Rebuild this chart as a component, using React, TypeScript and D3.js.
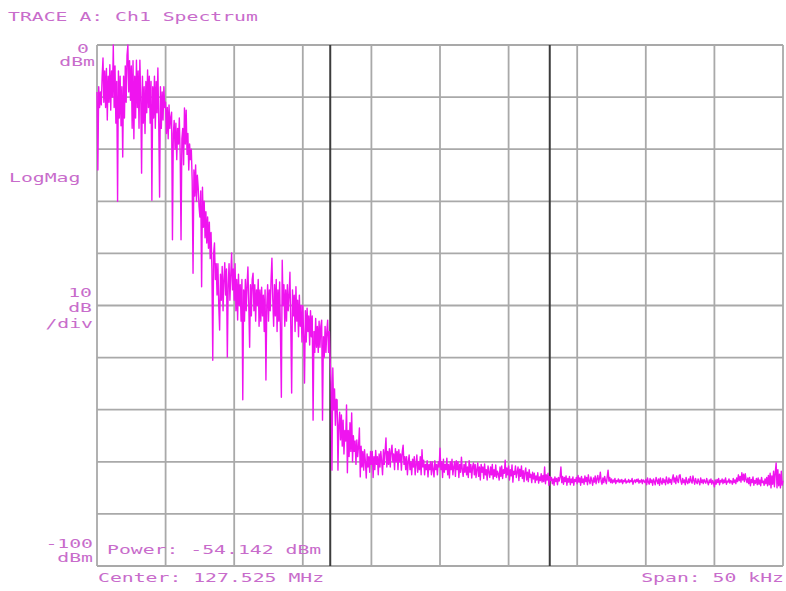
import React from "react";
import * as d3 from "d3";

// Sweep settings (kHz offset from centre)
const spanKHz = 50;
const sweepPoints = 801;
const divKHz = 5;
const refLevel = 0;
const bottomLevel = -100;
const dbPerDiv = 10;
const channelEdgesKHz = [-8, 8];

// Trace A amplitude readings in dBm, one per sweep point (10 per row)
const traceDbm: number[] = [
  -9, -24, -8, -12, -9, -11.5, -6, -2.5, -11, -5,
  -12, -4.5, -14.4, -6, -11, -3.8, -12.5, -5, -10, 0,
  -12, -4, -15, -7, -30, -5, -14, -6, -15.5, -8,
  -21.5, -6, -14, -4, -11, -2, 0, -9, -3, -10.6,
  -4, -16, -3, -18, -6, -14, -2.9, -12, -5, -16,
  -2.9, -10, -24.6, -6, -15, -8, -17, -7, -13, -4.8,
  -12, -6, -15, -7, -29.8, -8, -14, -6, -16, -7,
  -13, -4.4, -15, -29.2, -8, -16, -9, -14.4, -8, -12,
  -11, -17, -12, -18, -11.5, -16, -14, -12.9, -37.4, -17,
  -14.5, -20, -15, -22, -16, -19, -14, -21, -37.4, -18,
  -16, -23, -12.1, -19, -12.5, -21, -17, -24, -19, -22,
  -20, -26, -43.8, -24, -29, -23, -30, -25, -27.3, -31,
  -33, -28, -46.4, -27.3, -35, -30, -37, -32, -38, -33,
  -39, -34, -41, -36, -43, -60.5, -40, -38, -45, -42,
  -48, -42, -50, -54.7, -44, -49, -42.5, -51, -45, -41.8,
  -48, -43, -59.9, -46, -42, -49, -44, -39.9, -47, -43,
  -49, -42, -51, -45, -52.8, -44, -50, -46, -53, -45,
  -68.1, -47, -53, -45, -51, -46, -42.6, -50, -58, -46,
  -52, -45, -43.8, -51, -46, -53, -47, -50, -45, -54,
  -47, -53, -46.5, -52, -48, -55, -47, -64.3, -50, -46,
  -53, -47, -51, -45, -40.9, -49, -54, -46, -52, -45,
  -55, -47, -53, -45.5, -56, -67.6, -41.3, -50, -46, -54,
  -47, -53, -46, -51, -48, -43.6, -54, -66.8, -47, -52,
  -48, -55, -46.4, -53, -49, -56, -48, -54, -50, -57,
  -50, -56, -64.9, -51, -57, -50.5, -55, -52, -57.6, -51,
  -56, -52, -72, -55, -59, -52.5, -58, -54, -59, -53,
  -58, -54, -52.8, -72, -56, -60, -54, -59, -55, -52.8,
  -59, -55, -61, -64.9, -81.6, -62, -70, -66, -73, -68,
  -68.1, -81.6, -73, -70.5, -75.8, -71, -77, -72, -78.5, -74,
  -76, -69.1, -82.1, -74, -79, -72.5, -78, -70.6, -80, -75,
  -78, -76, -80.5, -75.8, -79, -77, -73.5, -82.9, -77, -81,
  -78, -81.6, -77.7, -80, -83.1, -78.5, -81, -79, -82, -78,
  -80.5, -78, -83, -79, -81.5, -77.8, -80.5, -79, -82.5, -78.5,
  -81, -78, -80, -82.5, -77.7, -80.5, -78, -75.4, -81, -78,
  -80.5, -77.5, -81, -78, -76.8, -80, -78.5, -81.5, -77.5, -80,
  -78, -81.5, -77.7, -80, -78.5, -81.6, -78, -76.8, -80.5, -79,
  -81.5, -79, -82.5, -80, -78.7, -81.5, -80, -82.5, -79.5, -81,
  -79, -82.5, -80.5, -78.7, -82, -80, -81.5, -79, -82.5, -77.7,
  -81, -79.7, -82.5, -80.5, -81.5, -79.8, -82.9, -80.5, -81.5, -80,
  -82.5, -80, -81.5, -82.9, -79.8, -81.5, -80.5, -82.5, -80, -81,
  -77.4, -81.5, -80, -83, -79.5, -82, -80.5, -81.5, -79.3, -82.5,
  -80.5, -83.1, -80, -81.5, -79.5, -82.5, -81, -80, -82.8, -79.8,
  -81.5, -80, -83, -80.5, -82, -79.1, -81.5, -82.8, -80.5, -82,
  -80, -82.5, -81, -83, -79.8, -82, -80.5, -83.1, -81, -80.2,
  -82.5, -80.5, -83, -81.5, -80.2, -82.8, -81, -83.5, -80.5, -82,
  -81, -83.2, -80.4, -82.5, -81.5, -83.5, -80.8, -82, -83, -81,
  -82.5, -80.5, -83.3, -81.5, -82.8, -80.6, -83, -81.8, -82.3, -83.5,
  -81, -82.8, -80.8, -83.2, -81.5, -82.2, -79.7, -83, -81.2, -82.5,
  -80.8, -83.5, -81.5, -82.7, -80.6, -83.9, -81.8, -82.4, -80.8, -83,
  -82, -81, -83.6, -81.4, -82.8, -80.8, -83.2, -81.7, -83.8, -82,
  -81.2, -83.5, -82, -83.8, -81.5, -83, -82.4, -84, -82, -83.3,
  -82.2, -84, -82.7, -83.5, -82.1, -84.1, -82.9, -83.6, -82.3, -83.9,
  -82.6, -83.8, -81, -84.2, -82.5, -83.5, -82.2, -84.5, -82.8, -83.6,
  -83, -84.2, -83.3, -84.5, -82.9, -83.8, -83.2, -84.4, -83, -83.7,
  -82.9, -81, -84, -82.8, -84.3, -83, -83.8, -82.7, -84.5, -83.2,
  -83.9, -82.8, -84.4, -83.3, -84, -82.9, -84.5, -83.4, -83.8, -83,
  -84.2, -82.6, -83.9, -83.1, -84.5, -82.8, -84, -83.3, -84.3, -82.7,
  -83.8, -83, -84.4, -82.5, -83.7, -84.2, -82.9, -83.6, -84.5, -83.1,
  -83.9, -82.7, -84.2, -83.3, -82.6, -84, -83.2, -82, -83.8, -84.3,
  -83.1, -84, -82.8, -83.6, -84.2, -82.9, -81.6, -83.7, -83, -84,
  -83.3, -84.1, -83.5, -83.9, -83.2, -84.2, -83.6, -83.8, -83.3, -84,
  -83.5, -83.9, -83.4, -84.2, -83.6, -83.8, -83.3, -84.1, -83.7, -83.9,
  -83.4, -84, -83.6, -83.8, -83.2, -84.3, -83.7, -83.5, -84, -83.4,
  -83.8, -83.3, -84.1, -83.6, -83.9, -83.4, -84.2, -83.5, -83.7, -84,
  -83.4, -84.4, -83.1, -83.9, -84.3, -83.2, -84, -83.5, -84.5, -83.3,
  -83.8, -84.4, -83, -83.6, -84.2, -83.3, -84.5, -83.1, -83.9, -84.3,
  -83.2, -84, -83.5, -84.4, -82.9, -83.8, -84.2, -83.1, -84, -83.4,
  -84.3, -83.2, -82.5, -83.9, -83.1, -84.2, -82.7, -83.6, -84, -82.6,
  -82.5, -83.8, -84.3, -83.2, -84, -83.5, -84.4, -83, -83.9, -84.2,
  -83.3, -84, -82.8, -83.7, -84.1, -82.7, -83.6, -84.3, -83.2, -83.9,
  -84.2, -83.3, -83.8, -84.4, -83.1, -84, -83.5, -84.2, -83.4, -83.8,
  -84.1, -83.2, -83.9, -84.4, -83.5, -84, -83.3, -84.3, -83.6, -84,
  -84.8, -83.5, -84.3, -83.4, -84, -83.2, -84.4, -83.6, -83.9, -83.3,
  -84.2, -83.5, -84, -83.1, -84.3, -83.7, -83.9, -83.3, -84.1, -83.6,
  -83.8, -84.3, -83.2, -84, -83.5, -84.2, -83.1, -83.8, -82.5, -83.6,
  -82.8, -83.9, -82.1, -83.5, -82.4, -83.8, -82.3, -83.4, -84, -83.1,
  -84.2, -83, -84.6, -83.4, -84, -82.9, -84.5, -83.6, -84.1, -83.2,
  -84.4, -83.1, -84.3, -83.5, -84.6, -83, -84, -83.7, -84.5, -83.3,
  -84.2, -83, -84.6, -82.6, -84.4, -82.2, -85, -82.7, -84.3, -81.8,
  -84.8, -82, -80.2, -85, -81.5, -84.6, -82.4, -85, -81.8, -84.5,
  -83.6,
];

// Annotation strings
const titleText = "TRACE A: Ch1 Spectrum";
const topLevelLines = ["0", "dBm"];
const scaleLines = ["10", "dB", "/div"];
const bottomLevelLines = ["-100", "dBm"];
const formatText = "LogMag";
const powerText = "Power: -54.142 dBm";
const centerText = "Center: 127.525 MHz";
const spanText = "Span: 50 kHz";

const W = 786;
const H = 591;
const plot = { left: 97, right: 783, top: 45, bottom: 566 };
const CHAR_W = 11.9;
const textColor = "#c86ccb";
const gridColor = "#a9a9a9";
const traceColor = "#ef14ef";

function Label({ x, y, text, anchor = "start" }: { x: number; y: number; text: string; anchor?: "start" | "end" }) {
  const len = text.length * CHAR_W;
  const x0 = anchor === "end" ? x - len : x;
  return (
    <text
      x={x0}
      y={y}
      textLength={len}
      lengthAdjust="spacingAndGlyphs"
      fontFamily="'DejaVu Sans Mono', 'Liberation Mono', monospace"
      fontSize={12.5}
      fill={textColor}
    >
      {text}
    </text>
  );
}

export default function App() {
  const x = d3.scaleLinear().domain([-spanKHz / 2, spanKHz / 2]).range([plot.left, plot.right]);
  const y = d3.scaleLinear().domain([bottomLevel, refLevel]).range([plot.bottom, plot.top]);

  const step = spanKHz / (sweepPoints - 1);
  const points: [number, number][] = traceDbm.map((v, i) => [-spanKHz / 2 + i * step, v]);

  const line = d3
    .line<[number, number]>()
    .x((d) => x(d[0]))
    .y((d) => y(d[1]));

  const xTicks = d3.range(-spanKHz / 2, spanKHz / 2 + 0.001, divKHz);
  const yTicks = d3.range(bottomLevel, refLevel + 0.001, dbPerDiv);

  return (
    <svg
      width={W}
      height={H}
      viewBox={`0 0 ${W} ${H}`}
      style={{ position: "absolute", left: 0, top: 0, display: "block", background: "#fff" }}
    >
      <rect x={0} y={0} width={W} height={H} fill="#fff" />
      {/* graticule */}
      <g stroke={gridColor} strokeWidth={1.8}>
        {xTicks.map((t) => (
          <line key={`vx${t}`} x1={x(t)} x2={x(t)} y1={plot.top} y2={plot.bottom} />
        ))}
        {yTicks.map((t) => (
          <line key={`hy${t}`} x1={plot.left} x2={plot.right} y1={y(t)} y2={y(t)} />
        ))}
      </g>
      {/* channel bandwidth markers */}
      <g stroke="#3c3c3c" strokeWidth={2}>
        {channelEdgesKHz.map((f) => (
          <line key={`m${f}`} x1={x(f)} x2={x(f)} y1={plot.top} y2={plot.bottom} />
        ))}
      </g>
      {/* trace */}
      <path d={line(points) || ""} fill="none" stroke={traceColor} strokeWidth={1.4} strokeLinejoin="round" />

      {/* annotations */}
      <Label x={8} y={21} text={titleText} />
      <Label x={89} y={53} text={topLevelLines[0]} anchor="end" />
      <Label x={95} y={66} text={topLevelLines[1]} anchor="end" />
      <Label x={9} y={182} text={formatText} />
      <Label x={92} y={297} text={scaleLines[0]} anchor="end" />
      <Label x={92} y={312} text={scaleLines[1]} anchor="end" />
      <Label x={93} y={328} text={scaleLines[2]} anchor="end" />
      <Label x={93} y={548} text={bottomLevelLines[0]} anchor="end" />
      <Label x={93} y={562} text={bottomLevelLines[1]} anchor="end" />
      <Label x={107} y={554} text={powerText} />
      <Label x={98} y={582} text={centerText} />
      <Label x={784} y={582} text={spanText} anchor="end" />
    </svg>
  );
}
